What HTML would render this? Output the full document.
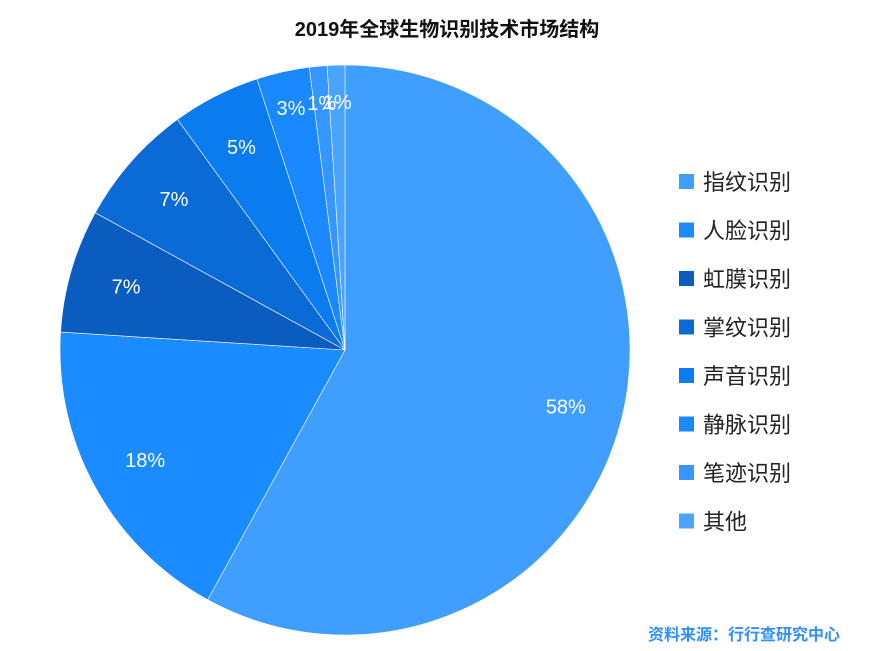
<!DOCTYPE html>
<html><head><meta charset="utf-8"><style>
body{margin:0;background:#fff;}
svg text{font-family:"Liberation Sans","Noto Sans CJK SC",sans-serif;}
</style></head><body>
<svg width="894" height="646" viewBox="0 0 894 646">
<text x="447" y="36" text-anchor="middle" font-size="20" font-weight="bold" fill="#111">2019年全球生物识别技术市场结构</text>
<g id="slices"></g>
<g id="labels"></g>
<g id="legend"></g>
<text x="840" y="640" text-anchor="end" font-size="16" font-weight="bold" fill="#2f8fff">资料来源：行行查研究中心</text>
</svg>
<script>
const categories=["指纹识别","人脸识别","虹膜识别","掌纹识别","声音识别","静脉识别","笔迹识别","其他"];
const values=[58,18,7,7,5,3,1,1];
const colors=["#409eff","#1a8cff","#0b5cbf","#0a6ad6","#0a7cf0","#1a88ff","#3696ff","#4aa4ff"];
const ns="http://www.w3.org/2000/svg";
const cx=345,cy=350,r=285;
const total=values.reduce((a,b)=>a+b,0);
function pt(a,rr){return [cx+rr*Math.sin(a),cy-rr*Math.cos(a)];}
let a0=0;
const gs=document.getElementById('slices'),gl=document.getElementById('labels'),gg=document.getElementById('legend');
values.forEach((v,i)=>{
  const a1=a0+v/total*2*Math.PI;
  const p0=pt(a0,r),p1=pt(a1,r);
  const large=(a1-a0)>Math.PI?1:0;
  const p=document.createElementNS(ns,'path');
  p.setAttribute('d',`M${cx},${cy}L${p0[0]},${p0[1]}A${r},${r} 0 ${large} 1 ${p1[0]},${p1[1]}Z`);
  p.setAttribute('fill',colors[i]);
  p.setAttribute('stroke','#fff');
  p.setAttribute('stroke-width','0.6');
  
  
  gs.appendChild(p);
  const m=(a0+a1)/2;
  const lr=v<4?0.87*r:0.8*r;
  const lp=pt(m,lr);
  const t=document.createElementNS(ns,'text');
  t.setAttribute('x',lp[0]);t.setAttribute('y',lp[1]+7);
  t.setAttribute('text-anchor','middle');t.setAttribute('font-size','20');t.setAttribute('fill','#fff');
  t.textContent=v+'%';
  
  
  gl.appendChild(t);
  const y=182+i*48.5;
  const sq=document.createElementNS(ns,'rect');
  sq.setAttribute('x',679);sq.setAttribute('y',y-8);sq.setAttribute('width',15);sq.setAttribute('height',15);sq.setAttribute('fill',colors[i]);
  
  
  gg.appendChild(sq);
  const lt=document.createElementNS(ns,'text');
  lt.setAttribute('x',703);lt.setAttribute('y',y+8);lt.setAttribute('font-size','22');lt.setAttribute('fill','#222');
  lt.textContent=categories[i];
  
  
  gg.appendChild(lt);
  a0=a1;
});
</script>
</body></html>
